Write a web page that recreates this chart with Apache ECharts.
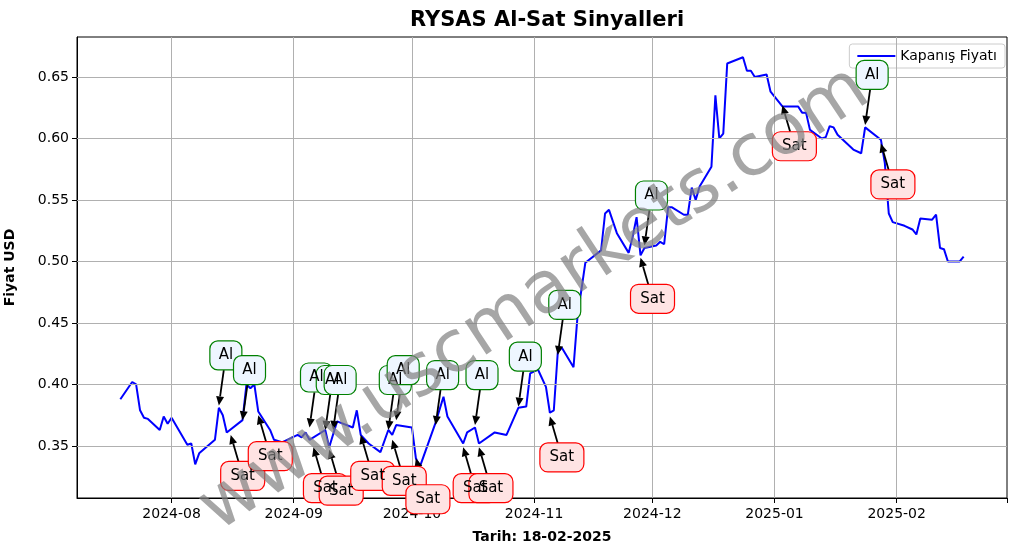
<!DOCTYPE html>
<html lang="tr">
<head>
<meta charset="UTF-8">
<title>RYSAS Al-Sat Sinyalleri</title>
<script src="https://cdn.jsdelivr.net/npm/echarts@6/dist/echarts.min.js"></script>
</head>
<body style="margin:0">
<div id="main" style="width:1017px;height:554px;"></div>
<script>
// kapanış fiyatları
const dates = ['2024-07-19','2024-07-22','2024-07-23','2024-07-24','2024-07-25','2024-07-26','2024-07-29','2024-07-30','2024-07-31','2024-08-01',
  '2024-08-05','2024-08-06','2024-08-07','2024-08-08','2024-08-12','2024-08-13','2024-08-14','2024-08-15','2024-08-19','2024-08-20',
  '2024-08-21','2024-08-22','2024-08-23','2024-08-26','2024-08-27','2024-08-29','2024-09-02','2024-09-03','2024-09-04','2024-09-05',
  '2024-09-09','2024-09-10','2024-09-12','2024-09-16','2024-09-17','2024-09-18','2024-09-20','2024-09-23','2024-09-25','2024-09-26',
  '2024-09-27','2024-10-01','2024-10-02','2024-10-03','2024-10-07','2024-10-09','2024-10-10','2024-10-14','2024-10-15','2024-10-17',
  '2024-10-18','2024-10-22','2024-10-25','2024-10-28','2024-10-30','2024-10-31','2024-11-02','2024-11-04','2024-11-05','2024-11-06',
  '2024-11-07','2024-11-08','2024-11-11','2024-11-12','2024-11-14','2024-11-18','2024-11-19','2024-11-20','2024-11-22','2024-11-25',
  '2024-11-26','2024-11-27','2024-11-28','2024-11-29','2024-12-02','2024-12-03','2024-12-04','2024-12-05','2024-12-06','2024-12-09',
  '2024-12-10','2024-12-11','2024-12-12','2024-12-13','2024-12-16','2024-12-17','2024-12-18','2024-12-19','2024-12-20','2024-12-24',
  '2024-12-25','2024-12-26','2024-12-27','2024-12-30','2024-12-31','2025-01-03','2025-01-06','2025-01-07','2025-01-08','2025-01-09',
  '2025-01-10','2025-01-13','2025-01-14','2025-01-15','2025-01-16','2025-01-17','2025-01-21','2025-01-23','2025-01-24','2025-01-28',
  '2025-01-29','2025-01-30','2025-01-31','2025-02-03','2025-02-05','2025-02-06','2025-02-07','2025-02-10','2025-02-11','2025-02-12',
  '2025-02-13','2025-02-14','2025-02-17','2025-02-18'];
const prices = [0.388,0.402,0.400,0.379,0.373,0.372,0.363,0.374,0.368,0.373,
  0.351,0.352,0.335,0.344,0.355,0.381,0.375,0.361,0.371,0.400,
  0.397,0.400,0.378,0.363,0.355,0.353,0.359,0.357,0.361,0.355,
  0.363,0.349,0.370,0.365,0.379,0.359,0.352,0.345,0.363,0.359,
  0.367,0.365,0.340,0.333,0.369,0.390,0.374,0.352,0.361,0.365,
  0.352,0.361,0.359,0.381,0.382,0.409,0.412,0.398,0.377,0.379,
  0.426,0.430,0.414,0.455,0.499,0.509,0.539,0.542,0.523,0.507,
  0.520,0.536,0.505,0.511,0.513,0.516,0.514,0.544,0.544,0.538,
  0.538,0.560,0.550,0.561,0.577,0.635,0.600,0.604,0.661,0.666,
  0.655,0.655,0.650,0.652,0.638,0.626,0.626,0.626,0.621,0.621,
  0.607,0.600,0.601,0.610,0.609,0.603,0.591,0.588,0.609,0.599,
  0.580,0.539,0.532,0.529,0.526,0.522,0.535,0.534,0.538,0.511,
  0.510,0.500,0.500,0.504];

// sinyaller (ok ucu noktaları)
const alDates = ['2024-08-13','2024-08-19','2024-09-05','2024-09-09','2024-09-11','2024-09-25','2024-09-27','2024-10-07','2024-10-17','2024-10-28','2024-11-07','2024-11-29','2025-01-24'];
const alValues = [0.383,0.371,0.365,0.363,0.363,0.363,0.371,0.367,0.367,0.382,0.424,0.513,0.611];
const satDates = ['2024-08-16','2024-08-23','2024-09-06','2024-09-10','2024-09-18','2024-09-26','2024-10-02','2024-10-14','2024-10-18','2024-11-05','2024-11-28','2025-01-03','2025-01-28'];
const satValues = [0.359,0.375,0.349,0.347,0.359,0.355,0.340,0.349,0.349,0.374,0.503,0.627,0.596];

const yTicks = [0.35, 0.40, 0.45, 0.50, 0.55, 0.60, 0.65];
const xTicks = ['2024-08-01','2024-09-01','2024-10-01','2024-11-01','2024-12-01','2025-01-01','2025-02-01'];

const font = 'DejaVu Sans';
const chart = echarts.init(document.getElementById('main'));
const yLines = yTicks.map(v => ({ yAxis: v }));
const xLines = xTicks.map(d => ({ xAxis: d }));
const lastTick = +new Date('2025-02-15');

chart.setOption({
    animation: false,
    textStyle: { fontFamily: font },
    title: { text: 'RYSAS Al-Sat Sinyalleri', left: 542, top: 5, textAlign: 'center',
        textStyle: { fontFamily: font, fontSize: 21, fontWeight: 'bold', color: '#000' } },
    legend: { right: 12, top: 44, itemWidth: 38, itemHeight: 2, borderColor: '#ccc', borderWidth: 1,
        borderRadius: 3, padding: [5, 8], backgroundColor: 'rgba(255,255,255,0.8)', itemGap: 6,
        textStyle: { fontFamily: font, fontSize: 14, color: '#000' }, icon: 'rect' },
    grid: { left: 77, right: 10, top: 37, bottom: 56, show: true, borderColor: '#000', borderWidth: 1,
        outerBoundsMode: 'none', containLabel: false },
    xAxis: {
        type: 'time', min: '2024-07-08', max: '2025-03-01',
        name: 'Tarih: 18-02-2025', nameLocation: 'middle', nameGap: 32,
        nameTextStyle: { fontFamily: font, fontSize: 14, fontWeight: 'bold', color: '#000' },
        axisLine: { lineStyle: { color: '#000' } },
        axisTick: { length: 5, lineStyle: { color: '#000' } },
        axisLabel: { fontSize: 14, color: '#000', hideOverlap: false, margin: 9,
            formatter: v => v > lastTick ? '' : echarts.time.format(v, '{yyyy}-{MM}', false) },
        splitLine: { show: false }
    },
    yAxis: {
        type: 'value', min: 0.3077, max: 0.6825,
        name: 'Fiyat USD', nameLocation: 'middle', nameGap: 60,
        nameTextStyle: { fontFamily: font, fontSize: 14, fontWeight: 'bold', color: '#000' },
        axisLine: { show: true, lineStyle: { color: '#000' } },
        axisTick: { show: true, customValues: yTicks, length: 5, lineStyle: { color: '#000' } },
        axisLabel: { customValues: yTicks, fontSize: 14, color: '#000', formatter: v => v.toFixed(2) },
        splitLine: { show: false }
    },
    series: [{
        name: 'Kapanış Fiyatı', type: 'line', symbol: 'none',
        lineStyle: { color: '#0000ff', width: 2 }, itemStyle: { color: '#0000ff' },
        data: dates.map((d, i) => [d, prices[i]]),
        markLine: { silent: true, symbol: 'none', label: { show: false },
            lineStyle: { color: '#b0b0b0', width: 1, type: 'solid' }, data: yLines.concat(xLines) }
    }]
});

// filigran ve sinyal kutuları
const g = [{
    type: 'text', x: 535, y: 300, rotation: 33.5 * Math.PI / 180, z: 100,
    style: { text: 'www.uscmarkets.com', font: '72px "DejaVu Sans"', fill: 'rgba(128,128,128,0.7)',
        align: 'center', verticalAlign: 'middle' }
}];

function addSignal(date, value, isAl) {
    const p = chart.convertToPixel({ seriesIndex: 0 }, [date, value]);
    const lx = p[0] + (isAl ? 7 : 12), ly = p[1] + (isAl ? -50 : 41);
    const dx = p[0] - lx, dy = p[1] - ly, len = Math.sqrt(dx * dx + dy * dy);
    const ux = dx / len, uy = dy / len;
    const sx = lx + ux * 15, sy = ly + uy * 15;
    const hx = p[0] - ux * 9, hy = p[1] - uy * 9;
    g.push({ type: 'line', z: 50, shape: { x1: sx, y1: sy, x2: hx, y2: hy }, style: { stroke: '#000', lineWidth: 1.8 } });
    g.push({ type: 'polygon', z: 50, shape: { points: [[p[0], p[1]], [hx - uy * 4, hy + ux * 4], [hx + uy * 4, hy - ux * 4]] },
        style: { fill: '#000' } });
    const w = isAl ? 32 : 44, h = 29;
    g.push({ type: 'rect', z: 60, shape: { x: lx - w / 2, y: ly - h / 2, width: w, height: h, r: 8 },
        style: { fill: isAl ? '#eef6ff' : '#ffe3e3', stroke: isAl ? 'green' : 'red', lineWidth: 1.2 } });
    g.push({ type: 'text', z: 61, x: lx, y: ly, style: { text: isAl ? 'Al' : 'Sat', font: '15px "DejaVu Sans"',
        fill: '#000', align: 'center', verticalAlign: 'middle' } });
}
alDates.forEach((d, i) => addSignal(d, alValues[i], true));
satDates.forEach((d, i) => addSignal(d, satValues[i], false));
chart.setOption({ graphic: g });
</script>
</body>
</html>
